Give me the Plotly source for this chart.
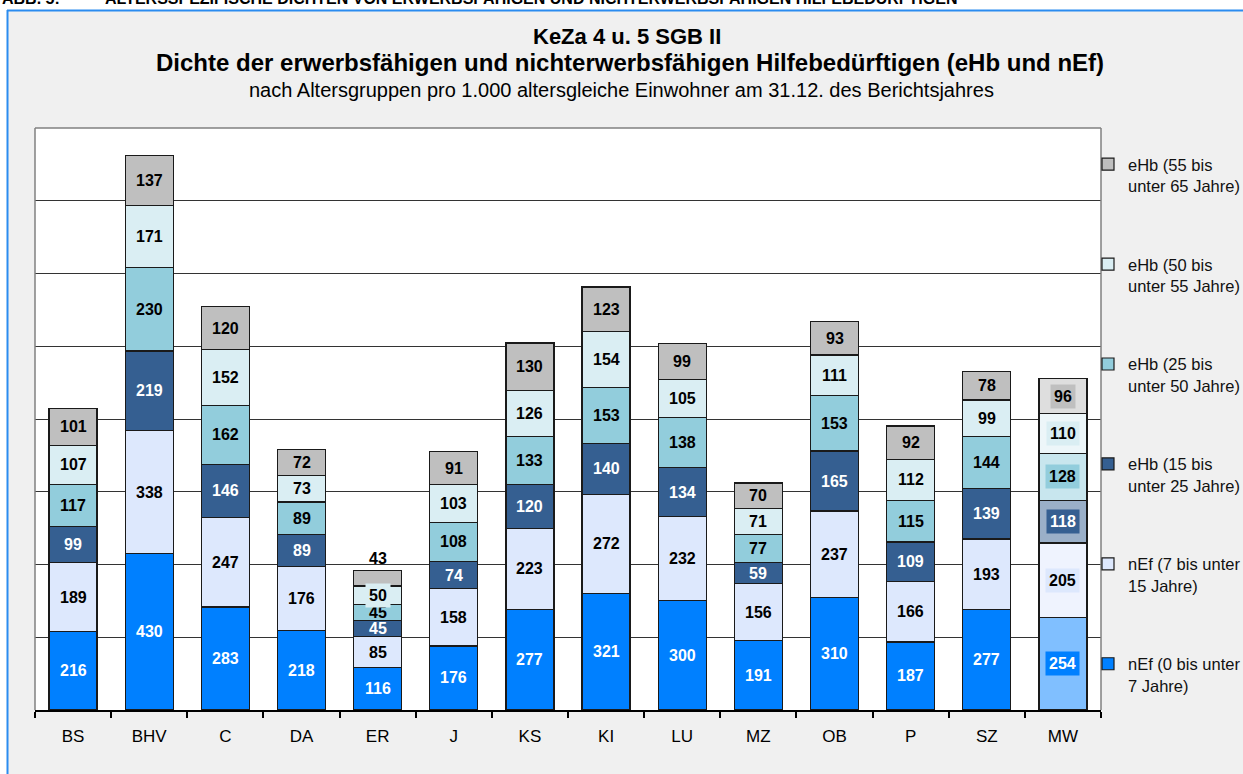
import plotly.graph_objects as go

categories = ["BS", "BHV", "C", "DA", "ER", "J", "KS", "KI", "LU", "MZ", "OB", "P", "SZ", "MW"]
nef_0_7 = [216, 430, 283, 218, 116, 176, 277, 321, 300, 191, 310, 187, 277, 254]
nef_7_15 = [189, 338, 247, 176, 85, 158, 223, 272, 232, 156, 237, 166, 193, 205]
ehb_15_25 = [99, 219, 146, 89, 45, 74, 120, 140, 134, 59, 165, 109, 139, 118]
ehb_25_50 = [117, 230, 162, 89, 45, 108, 133, 153, 138, 77, 153, 115, 144, 128]
ehb_50_55 = [107, 171, 152, 73, 50, 103, 126, 154, 105, 71, 111, 112, 99, 110]
ehb_55_65 = [101, 137, 120, 72, 43, 91, 130, 123, 99, 70, 93, 92, 78, 96]

series_names = [
    "nEf (0 bis unter<br>7 Jahre)",
    "nEf (7 bis unter<br>15 Jahre)",
    "eHb (15 bis<br>unter 25 Jahre)",
    "eHb (25 bis<br>unter 50 Jahre)",
    "eHb (50 bis<br>unter 55 Jahre)",
    "eHb (55 bis<br>unter 65 Jahre)",
]
series_values = [nef_0_7, nef_7_15, ehb_15_25, ehb_25_50, ehb_50_55, ehb_55_65]

base_colors = ["#0080FF", "#DDE8FD", "#355F91", "#92CDDC", "#DAEEF3", "#BFBFBF"]
light_colors = ["#80BFFF", "#EFF3FE", "#9AAFC8", "#C8E6EE", "#EDF6F9", "#DEDEDE"]
text_colors = ["white", "black", "white", "black", "black", "black"]

FONT = "Arial, Liberation Sans, sans-serif"
W, H = 1243, 774
PL, PR, PT, PB = 35, 1101, 128, 710  # plot area in pixels


def px_x(p):
    return (p - PL) / (PR - PL)


def px_y(p):
    return (PB - p) / (PB - PT)


fig = go.Figure()
n = len(categories)
mw = categories.index("MW")
for j, (name, vals) in enumerate(zip(series_names, series_values)):
    colors = [light_colors[j] if i == mw else base_colors[j] for i in range(n)]
    fig.add_trace(go.Bar(
        x=categories, y=vals, name=name,
        legendgroup=f"g{j}", legendrank=1000 - 10 * j,
        marker=dict(color=colors, line=dict(color="#1a1a1a", width=1.2)),
        hoverinfo="x+y+name",
    ))

annotations = []
# value labels
for i, cat in enumerate(categories):
    cum = 0
    for j, vals in enumerate(series_values):
        v = vals[i]
        ann = dict(x=cat, y=cum + v / 2, xref="x", yref="y", text=f"<b>{v}</b>", showarrow=False,
                   font=dict(family=FONT, size=16, color=text_colors[j]), yanchor="middle", xanchor="center")
        if cat == "ER" and j == len(series_values) - 1:
            ann.update(y=cum + v, yanchor="bottom", yshift=1, font=dict(family=FONT, size=16, color="black"))
        if cat == "MW" or (cat == "ER" and j == 4):
            ann.update(bgcolor=base_colors[j], borderpad=3)
        annotations.append(ann)
        cum += v

# titles
annotations += [
    dict(x=px_x(627), y=px_y(37), xref="paper", yref="paper", showarrow=False, xanchor="center", yanchor="middle",
         text="<b>KeZa 4 u. 5 SGB II</b>", font=dict(family=FONT, size=22, color="black")),
    dict(x=px_x(630), y=px_y(63), xref="paper", yref="paper", showarrow=False, xanchor="center", yanchor="middle",
         text="<b>Dichte der erwerbsfähigen und nichterwerbsfähigen Hilfebedürftigen (eHb und nEf)</b>",
         font=dict(family=FONT, size=24, color="black")),
    dict(x=px_x(621), y=px_y(90), xref="paper", yref="paper", showarrow=False, xanchor="center", yanchor="middle",
         text="nach Altersgruppen pro 1.000 altersgleiche Einwohner am 31.12. des Berichtsjahres",
         font=dict(family=FONT, size=20, color="black")),
    dict(x=px_x(0), y=px_y(9), xref="paper", yref="paper", showarrow=False, xanchor="left", yanchor="bottom",
         text="<b>ABB. 5:</b>", font=dict(family=FONT, size=16, color="black")),
    dict(x=px_x(103), y=px_y(9), xref="paper", yref="paper", showarrow=False, xanchor="left", yanchor="bottom",
         text="<b>ALTERSSPEZIFISCHE DICHTEN VON ERWERBSFÄHIGEN UND NICHTERWERBSFÄHIGEN HILFEBEDÜRFTIGEN</b>",
         font=dict(family=FONT, size=16, color="black")),
]

shapes = [
    # white page strips outside the chart box
    dict(type="rect", xref="paper", yref="paper", x0=px_x(-5), x1=px_x(W + 5), y0=px_y(10), y1=px_y(-5),
         fillcolor="white", line=dict(width=0), layer="below"),
    dict(type="rect", xref="paper", yref="paper", x0=px_x(-5), x1=px_x(7), y0=px_y(H + 5), y1=px_y(-5),
         fillcolor="white", line=dict(width=0), layer="below"),
    # blue chart-box border
    dict(type="line", xref="paper", yref="paper", x0=px_x(7), x1=px_x(W + 5), y0=px_y(10.5), y1=px_y(10.5),
         line=dict(color="#2B8CF0", width=2)),
    dict(type="line", xref="paper", yref="paper", x0=px_x(7.5), x1=px_x(7.5), y0=px_y(10), y1=px_y(H + 5),
         line=dict(color="#2B8CF0", width=2)),
    # plot-area border (top, left, right)
    dict(type="line", xref="paper", yref="paper", x0=0, x1=1, y0=1, y1=1, line=dict(color="#808080", width=1.5)),
    dict(type="line", xref="paper", yref="paper", x0=0, x1=0, y0=0, y1=1, line=dict(color="#808080", width=1.5)),
    dict(type="line", xref="paper", yref="paper", x0=1, x1=1, y0=0, y1=1, line=dict(color="#808080", width=1.5)),
]

fig.update_layout(
    width=W, height=H,
    margin=dict(l=PL, r=W - PR, t=PT, b=H - PB, pad=0, autoexpand=False),
    paper_bgcolor="#F0F0F0", plot_bgcolor="white",
    barmode="stack", bargap=0.37,
    font=dict(family=FONT, color="black"),
    showlegend=True,
    legend=dict(
        x=px_x(1088), y=px_y(147), xanchor="left", yanchor="top",
        traceorder="grouped", tracegroupgap=54, valign="top",
        font=dict(family=FONT, size=16.5, color="#111111"),
        bgcolor="rgba(0,0,0,0)", itemwidth=30,
    ),
    xaxis=dict(
        showline=True, linecolor="black", linewidth=1.5,
        ticks="outside", tickson="boundaries", ticklen=6, tickcolor="black", tickwidth=1.5,
        tickfont=dict(family=FONT, size=17, color="black"), ticklabelstandoff=10,
        showgrid=False, fixedrange=True,
    ),
    yaxis=dict(
        range=[0, 1600], dtick=200, showgrid=True, gridcolor="#333333", gridwidth=1,
        showticklabels=False, zeroline=False, showline=False, fixedrange=True,
    ),
    annotations=annotations,
    shapes=shapes,
)

fig.write_html("out.html")
